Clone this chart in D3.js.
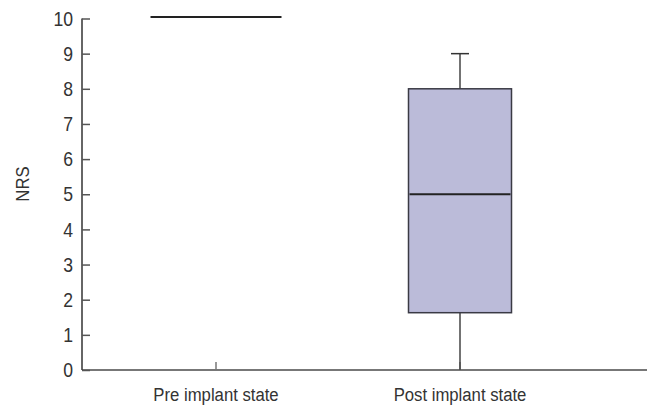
<!DOCTYPE html>
<html><head><meta charset="utf-8">
<script src="https://cdn.jsdelivr.net/npm/d3@7"></script>
<style>
body{margin:0;background:#fff;}
text{font-family:"Liberation Sans",Arial,sans-serif;fill:#333;}
</style></head>
<body><svg id="c" width="648" height="407"></svg>
<script>
const categories = ["Pre implant state", "Post implant state"];
const mins    = [10, 0];
const q1s     = [10, 1.63];
const medians = [10, 5];
const q3s     = [10, 8];
const maxs    = [10, 9];
const yTicks  = [0,1,2,3,4,5,6,7,8,9,10];
const yLabel  = "NRS";

const svg = d3.select("#c");
const y = d3.scaleLinear().domain([0,10]).range([370,18.5]);
const x = d3.scalePoint().domain(categories).range([216,460]);
const boxW = [133, 103];
const axisX = 82, axisEnd = 647, y0 = 370;
const SX = 0.88;

function label(px, py, txt, size, anchor, rot, dy) {
  const g = svg.append("g").attr("transform",
    `translate(${px},${py})` + (rot ? ` rotate(${rot})` : "") + ` scale(${SX},1)`);
  g.append("text").attr("text-anchor",anchor).attr("font-size",size)
    .attr("dy",dy||0).text(txt);
}

// x axis line
svg.append("line").attr("x1",axisX).attr("x2",axisEnd).attr("y1",y0).attr("y2",y0)
  .attr("stroke","#777").attr("stroke-width",2);
categories.forEach(c=>{
  svg.append("line").attr("x1",x(c)).attr("x2",x(c)).attr("y1",y0).attr("y2",y0-8)
    .attr("stroke","#777").attr("stroke-width",1.5);
  label(x(c), y0+31, c, 19, "middle");
});

// y axis
const yAxis = d3.axisRight(y).tickValues(yTicks).tickSize(8).tickFormat("");
const ga = svg.append("g").attr("transform",`translate(${axisX},0)`).call(yAxis);
ga.select(".domain").attr("stroke","#333").attr("stroke-width",1.5)
  .attr("d",`M0,${y(10)}V${y0}`);
ga.selectAll(".tick line").attr("stroke","#555").attr("stroke-width",1.5);
yTicks.forEach(t=>{
  label(axisX-9, y(t), t, 20, "end", 0, "0.36em");
});
label(29, 184, yLabel, 19, "middle", -90);

// boxes
categories.forEach((c,i)=>{
  const cx = x(c), w = boxW[i];
  const g = svg.append("g");
  if (q3s[i] > q1s[i]) {
    g.append("line").attr("x1",cx).attr("x2",cx).attr("y1",y(q3s[i])).attr("y2",y(maxs[i]))
      .attr("stroke","#444").attr("stroke-width",1.5);
    g.append("line").attr("x1",cx).attr("x2",cx).attr("y1",y(q1s[i])).attr("y2",y(mins[i]))
      .attr("stroke","#444").attr("stroke-width",1.5);
    g.append("line").attr("x1",cx-9).attr("x2",cx+9).attr("y1",y(maxs[i])).attr("y2",y(maxs[i]))
      .attr("stroke","#333").attr("stroke-width",1.5);
    g.append("rect").attr("x",cx-w/2).attr("width",w)
      .attr("y",y(q3s[i])).attr("height",y(q1s[i])-y(q3s[i]))
      .attr("fill","#BBBBD9").attr("stroke","#3a3a44").attr("stroke-width",1.5);
  }
  const off = i===0 ? 1.5 : 0;
  g.append("line").attr("x1",cx-w/2+1).attr("x2",cx+w/2-1)
    .attr("y1",y(medians[i]) - off).attr("y2",y(medians[i]) - off)
    .attr("stroke","#222").attr("stroke-width",2.2);
});
</script></body></html>
